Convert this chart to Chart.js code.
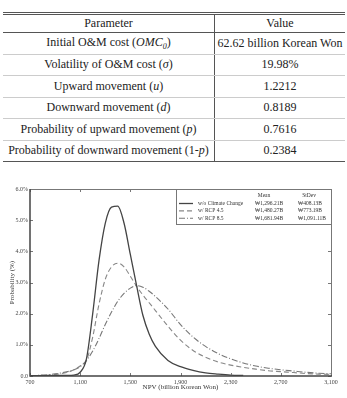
<!DOCTYPE html>
<html>
<head>
<meta charset="utf-8">
<script src="https://cdn.jsdelivr.net/npm/chart.js@4.4.1/dist/chart.umd.min.js"></script>
<style>
  body { margin: 0; background: #fff; width: 347px; height: 398px; overflow: hidden; position: relative; }
  table { position: absolute; left: 3px; top: 12px; width: 342px; border-collapse: collapse;
          font-family: 'Times New Roman', 'Liberation Serif', 'DejaVu Serif', Times, serif; font-size: 12px; color: #222; }
  td, th { padding: 0; text-align: center; font-weight: normal; white-space: nowrap; }
  thead tr { border-top: 3px double #555; border-bottom: 1px solid #555; }
  thead th { height: 17px; }
  tbody td { height: 20.5px; border-bottom: 1px solid #ccc; }
  tbody tr:last-child td { border-bottom: 1px solid #555; }
  .c1 { width: 211px; border-right: 1px solid #555; }
  #wrap { position: absolute; left: 0; top: 180px; width: 347px; height: 218px; }
</style>
</head>
<body>
<table>
  <thead><tr><th class="c1">Parameter</th><th>Value</th></tr></thead>
  <tbody id="rows"></tbody>
</table>
<div id="wrap"><canvas id="chart"></canvas></div>
<script>
// table rows
const paramNames = [
  'Initial O&amp;M cost (<i>OMC<sub style="font-size:8px">0</sub></i>)',
  'Volatility of O&amp;M cost (<i>σ</i>)',
  'Upward movement (<i>u</i>)',
  'Downward movement (<i>d</i>)',
  'Probability of upward movement (<i>p</i>)',
  'Probability of downward movement (1-<i>p</i>)'
];
const paramValues = ['62.62 billion Korean Won', '19.98%', '1.2212', '0.8189', '0.7616', '0.2384'];

// chart data
const npv = [700, 800, 900, 1000, 1050, 1100, 1150, 1200, 1250, 1300, 1350, 1400, 1450, 1500, 1550, 1600,
  1650, 1700, 1800, 1900, 2000, 2100, 2200, 2300, 2400, 2500, 2600, 2700, 2800, 2900, 3000, 3100];
const noClimate = [0.01, 0.01, 0.02, 0.02, 0.03, 0.12, 0.55, 2.0, 3.7, 4.9, 5.42, 5.45, 4.9, 3.9, 2.9, 1.95,
  1.35, 0.95, 0.5, 0.3, 0.18, 0.1, 0.06, 0.03, 0.02, null, null, null, null, null, null, null];
const rcp45 = [0.01, 0.02, 0.05, 0.12, 0.2, 0.32, 0.5, 1.25, 2.3, 3.1, 3.5, 3.62, 3.5, 3.2, 2.88, 2.6,
  2.35, 2.1, 1.6, 1.15, 0.82, 0.6, 0.45, 0.35, 0.28, 0.22, 0.17, 0.14, 0.11, 0.08, 0.06, 0.05];
const rcp85 = [0.01, 0.03, 0.07, 0.14, 0.2, 0.3, 0.5, 0.8, 1.2, 1.65, 2.05, 2.4, 2.65, 2.82, 2.9, 2.85,
  2.72, 2.55, 2.15, 1.65, 1.25, 0.95, 0.72, 0.55, 0.42, 0.32, 0.25, 0.2, 0.16, 0.12, 0.09, 0.07];

const seriesNames = ['w/o Climate Change', 'w/ RCP 4.5', 'w/ RCP 8.5'];
const seriesMeans = ['₩1,296.21B', '₩1,480.27B', '₩1,681.94B'];
const seriesStdevs = ['₩408.13B', '₩773.19B', '₩1,091.11B'];

document.getElementById('rows').innerHTML = paramNames
  .map((p, i) => `<tr><td class="c1">${p}</td><td>${paramValues[i]}</td></tr>`).join('');

const serif = "'Times New Roman', 'Liberation Serif', 'DejaVu Serif', serif";
const lineStyles = [
  { color: '#444', dash: [], width: 1.3 },
  { color: '#888', dash: [5, 3], width: 1.1 },
  { color: '#777', dash: [6, 2, 1, 2], width: 1.1 }
];

const toPoints = arr => npv.map((x, i) => ({ x, y: arr[i] }));

// box frame, inward ticks, and the mean/stdev legend box
const frameAndLegend = {
  id: 'frameAndLegend',
  afterDatasetsDraw(chart) {
    const { ctx, chartArea: a, scales: { x, y } } = chart;
    ctx.save();
    ctx.lineWidth = 1;
    ctx.strokeStyle = '#777';
    x.ticks.forEach(t => {
      const px = Math.round(x.getPixelForValue(t.value)) + 0.5;
      ctx.beginPath();
      ctx.moveTo(px, a.bottom); ctx.lineTo(px, a.bottom - 3);
      ctx.moveTo(px, a.top); ctx.lineTo(px, a.top + 3);
      ctx.stroke();
    });
    y.ticks.forEach(t => {
      const py = Math.round(y.getPixelForValue(t.value)) + 0.5;
      ctx.beginPath();
      ctx.moveTo(a.left, py); ctx.lineTo(a.left + 3, py);
      ctx.moveTo(a.right, py); ctx.lineTo(a.right - 3, py);
      ctx.stroke();
    });
    ctx.beginPath();
    ctx.moveTo(a.left, a.top + 0.5); ctx.lineTo(a.right + 0.5, a.top + 0.5); ctx.lineTo(a.right + 0.5, a.bottom);
    ctx.stroke();
    ctx.strokeStyle = '#444';
    ctx.lineWidth = 1.5;
    ctx.beginPath();
    ctx.moveTo(a.left, a.top); ctx.lineTo(a.left, a.bottom); ctx.lineTo(a.right + 1, a.bottom);
    ctx.stroke();

    // legend box
    const bx = a.right - 155, by = a.top + 0.5, bw = 155.5, bh = 35;
    ctx.fillStyle = '#fff';
    ctx.fillRect(bx, by, bw, bh);
    ctx.strokeStyle = '#777';
    ctx.lineWidth = 1;
    ctx.strokeRect(bx + 0.5, by, bw - 0.5, bh);
    ctx.font = `5.5px ${serif}`;
    ctx.fillStyle = '#333';
    ctx.textBaseline = 'middle';
    ctx.textAlign = 'center';
    ctx.fillText('Mean', bx + 88, by + 6);
    ctx.fillText('StDev', bx + 133, by + 6);
    ctx.textAlign = 'left';
    seriesNames.forEach((name, i) => {
      const ry = by + 14 + i * 7.4;
      const st = lineStyles[i];
      ctx.strokeStyle = st.color;
      ctx.lineWidth = st.width;
      ctx.setLineDash(st.dash);
      ctx.beginPath();
      ctx.moveTo(bx + 3, ry); ctx.lineTo(bx + 17, ry);
      ctx.stroke();
      ctx.setLineDash([]);
      ctx.fillText(name, bx + 22, ry);
      ctx.fillText(seriesMeans[i], bx + 79, ry);
      ctx.fillText(seriesStdevs[i], bx + 122, ry);
    });
    ctx.restore();
  }
};

new Chart(document.getElementById('chart'), {
  type: 'line',
  data: {
    datasets: [noClimate, rcp45, rcp85].map((arr, i) => ({
      label: seriesNames[i],
      data: toPoints(arr),
      borderColor: lineStyles[i].color,
      borderWidth: lineStyles[i].width,
      borderDash: lineStyles[i].dash,
      pointRadius: 0,
      cubicInterpolationMode: 'monotone',
      fill: false,
      spanGaps: false
    }))
  },
  options: {
    responsive: true,
    maintainAspectRatio: false,
    animation: false,
    layout: { padding: { top: 9, right: 16, left: 0, bottom: 0 } },
    plugins: { legend: { display: false }, tooltip: { enabled: false } },
    scales: {
      x: {
        type: 'linear',
        min: 700,
        max: 3100,
        grid: { display: false, drawTicks: false },
        border: { display: false },
        ticks: {
          stepSize: 400,
          color: '#444',
          padding: 3,
          maxRotation: 0,
          font: { family: serif, size: 6 },
          callback: v => v.toLocaleString('en-US')
        },
        title: {
          display: true,
          text: 'NPV (billion Korean Won)',
          color: '#333',
          font: { family: serif, size: 7 },
          padding: { top: 0, bottom: 7 }
        },
        afterFit: s => { s.height = 22; }
      },
      y: {
        min: 0,
        max: 6,
        grid: { display: false, drawTicks: false },
        border: { display: false },
        ticks: {
          stepSize: 1,
          color: '#444',
          padding: 2,
          font: { family: serif, size: 6 },
          callback: v => v === 0 ? '0.0' : v.toFixed(1) + '%'
        },
        title: {
          display: true,
          text: 'Probability (%)',
          color: '#333',
          font: { family: serif, size: 7 },
          padding: { top: 8, bottom: 0 }
        },
        afterFit: s => { s.width = 30; }
      }
    }
  },
  plugins: [frameAndLegend]
});
</script>
</body>
</html>
